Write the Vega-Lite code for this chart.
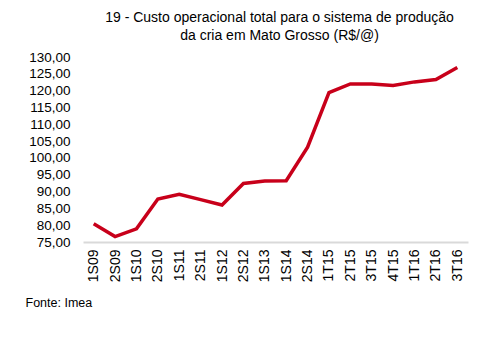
{
  "$schema": "https://vega.github.io/schema/vega-lite/v6.json",
  "autosize": "none",
  "width": 385,
  "height": 185,
  "padding": {"left": 83, "top": 57, "right": 28, "bottom": 97},
  "background": "white",
  "config": {"font": "Liberation Sans", "view": {"stroke": null}},
  "title": {
    "text": ["19 - Custo operacional total para o sistema de produção", "da cria em Mato Grosso (R$/@)"],
    "fontSize": 14,
    "fontWeight": "normal",
    "color": "#000000",
    "anchor": "middle",
    "offset": 7,
    "lineHeight": 18,
    "dx": 4
  },
  "data": {
    "values": [
      {"periodo": "1S09", "custo": 80.4},
      {"periodo": "2S09", "custo": 76.6},
      {"periodo": "1S10", "custo": 78.9},
      {"periodo": "2S10", "custo": 87.8},
      {"periodo": "1S11", "custo": 89.2},
      {"periodo": "2S11", "custo": 87.6},
      {"periodo": "1S12", "custo": 86.0},
      {"periodo": "2S12", "custo": 92.4},
      {"periodo": "1S13", "custo": 93.1},
      {"periodo": "1S14", "custo": 93.2},
      {"periodo": "2S14", "custo": 103.2},
      {"periodo": "1T15", "custo": 119.4},
      {"periodo": "2T15", "custo": 122.0},
      {"periodo": "3T15", "custo": 122.0},
      {"periodo": "4T15", "custo": 121.5},
      {"periodo": "1T16", "custo": 122.6},
      {"periodo": "2T16", "custo": 123.3},
      {"periodo": "3T16", "custo": 126.9}
    ]
  },
  "mark": {"type": "line", "color": "#C8001A", "strokeWidth": 3.5, "strokeJoin": "miter"},
  "encoding": {
    "x": {
      "field": "periodo",
      "type": "ordinal",
      "sort": null,
      "scale": {"type": "point", "padding": 0.5},
      "axis": {
        "title": "Fonte: Imea",
        "titleFontSize": 12.5,
        "titleFontWeight": "normal",
        "titleColor": "#000000",
        "titleAnchor": "start",
        "titleAlign": "left",
        "titleBaseline": "middle",
        "titleX": -58,
        "titleY": 60,
        "labelAngle": 270,
        "labelAlign": "right",
        "labelBaseline": "middle",
        "labelFontSize": 14,
        "labelColor": "#000000",
        "labelPadding": 7,
        "ticks": false,
        "domainColor": "#d9d9d9",
        "domainWidth": 2,
        "grid": false
      }
    },
    "y": {
      "field": "custo",
      "type": "quantitative",
      "scale": {"domain": [75, 130], "nice": false, "zero": false},
      "axis": {
        "title": null,
        "values": [75, 80, 85, 90, 95, 100, 105, 110, 115, 120, 125, 130],
        "format": ".2f",
        "labelExpr": "replace(datum.label, '.', ',')",
        "labelFontSize": 13.5,
        "labelColor": "#000000",
        "labelPadding": 13,
        "ticks": false,
        "domain": false,
        "grid": false
      }
    }
  }
}
